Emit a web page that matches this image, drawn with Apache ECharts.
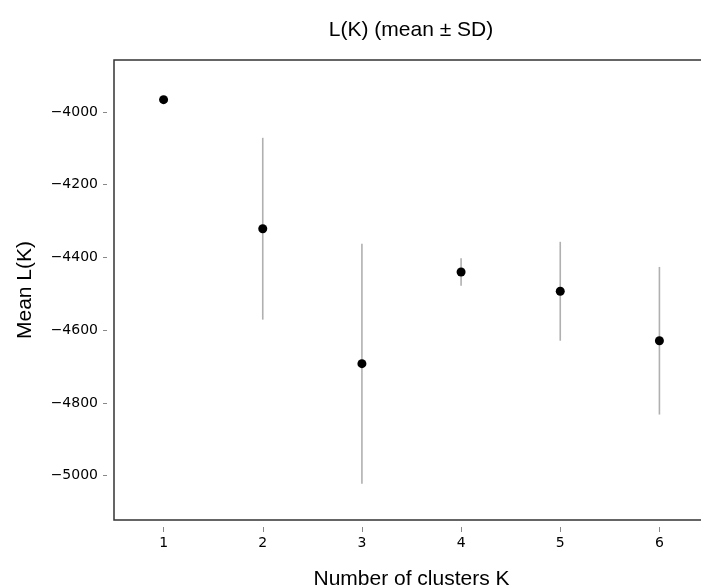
<!DOCTYPE html>
<html>
<head>
<meta charset="utf-8">
<script src="https://cdn.jsdelivr.net/npm/echarts@6/dist/echarts.min.js"></script>
<style>html,body{margin:0;padding:0;background:#fff}#c{width:701px;height:588px}</style>
</head>
<body>
<div id="c"></div>
<script>
const categories = ['1', '2', '3', '4', '5', '6'];
const meanValues = [-3966, -4321, -4692, -4440, -4493, -4629];
const sdValues = [0, 250, 330, 38, 136, 203];
const yTickValues = [-5000, -4800, -4600, -4400, -4200, -4000];

const chart = echarts.init(document.getElementById('c'), null, {renderer: 'canvas'});
const minus = v => String(v).replace('-', '\u2212');

const errData = meanValues.map((m, i) => [i, m - sdValues[i], m + sdValues[i]]);

chart.setOption({
  animation: false,
  backgroundColor: '#fff',
  title: {
    text: 'L(K) (mean \u00b1 SD)',
    left: 411,
    top: 20,
    textAlign: 'center',
    padding: 0,
    textStyle: {fontFamily: 'Liberation Sans', fontSize: 21, fontWeight: 'normal', color: '#000'}
  },
  grid: {
    left: 114, top: 60, width: 595, height: 460,
    outerBoundsMode: 'none',
    containLabel: false,
    show: true, borderColor: '#333', borderWidth: 1.5, backgroundColor: 'transparent'
  },
  xAxis: {
    type: 'category',
    data: categories,
    boundaryGap: true,
    offset: 7,
    axisLine: {show: false},
    axisTick: {show: true, alignWithLabel: true, length: 5, lineStyle: {color: '#888', width: 1}},
    axisLabel: {margin: 9, color: '#000', fontFamily: 'DejaVu Sans', fontSize: 14},
    splitLine: {show: false},
    name: 'Number of clusters K',
    nameLocation: 'middle',
    nameGap: 42,
    nameTextStyle: {fontFamily: 'Liberation Sans', fontSize: 21, color: '#000'}
  },
  yAxis: {
    type: 'value',
    min: -5122,
    max: -3857,
    offset: 7,
    axisLine: {show: false},
    axisTick: {show: true, length: 4, customValues: yTickValues, lineStyle: {color: '#888', width: 1}},
    axisLabel: {margin: 9, customValues: yTickValues, color: '#000', fontFamily: 'DejaVu Sans', fontSize: 14, formatter: minus},
    splitLine: {show: false},
    name: 'Mean L(K)',
    nameLocation: 'middle',
    nameGap: 71,
    nameRotate: 90,
    nameTextStyle: {fontFamily: 'Liberation Sans', fontSize: 21, color: '#000'}
  },
  series: [
    {
      type: 'custom',
      data: errData,
      clip: false,
      renderItem: function (params, api) {
        const x = api.value(0);
        const p1 = api.coord([x, api.value(1)]);
        const p2 = api.coord([x, api.value(2)]);
        return {
          type: 'line',
          shape: {x1: p1[0], y1: p1[1], x2: p2[0], y2: p2[1]},
          style: {stroke: '#b0b0b0', lineWidth: 1.6}
        };
      },
      z: 1
    },
    {
      type: 'scatter',
      data: meanValues.map((m, i) => [i, m]),
      symbol: 'circle',
      symbolSize: 9,
      itemStyle: {color: '#000', opacity: 1},
      z: 2
    }
  ]
});
</script>
</body>
</html>
